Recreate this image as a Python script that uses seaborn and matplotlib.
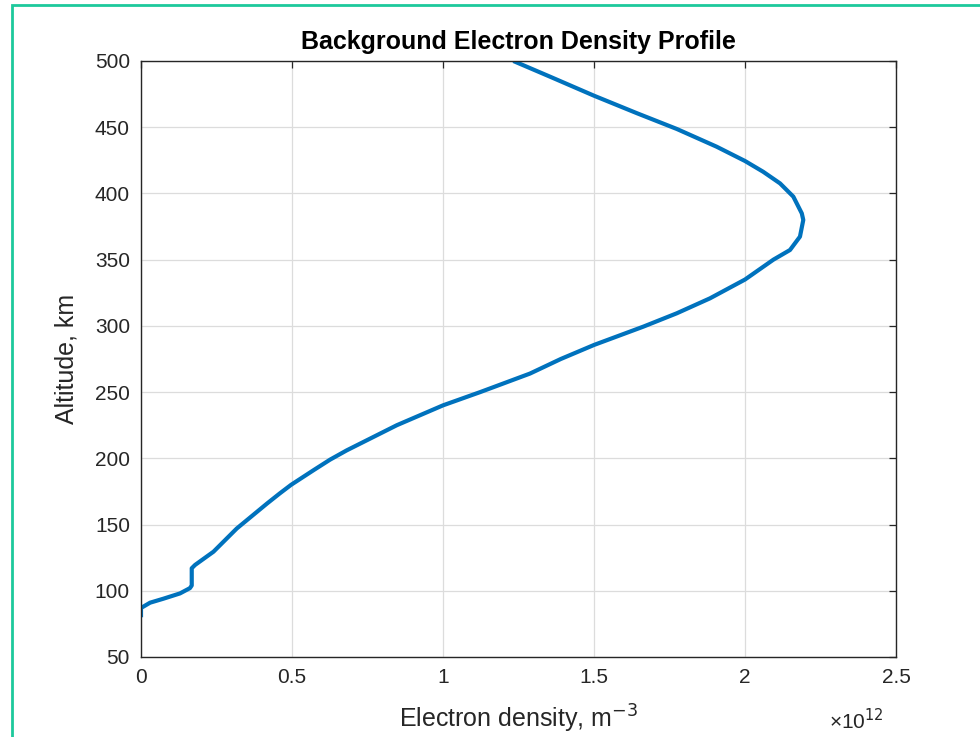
import matplotlib
matplotlib.use("Agg")
import matplotlib.pyplot as plt
import seaborn as sns
import pandas as pd
from matplotlib.patches import Rectangle

# Data (density in units of 1e12 m^-3, altitude in km)
altitude_km = [80, 87, 91, 94, 98, 102, 104, 110, 117, 119.5, 129.5, 147, 166, 173.6,
               180, 191, 199, 206, 225, 240, 250, 264, 275, 285.6, 299.4, 309.5,
               320.8, 335, 350, 357.3, 367.4, 380, 385, 397.6, 407.6, 416.4, 424.5,
               435.3, 448.7, 460.5, 473.8, 488.2, 500]
density_e12 = [0.0, 0.0, 0.03, 0.074, 0.129, 0.162, 0.168, 0.168, 0.168, 0.179, 0.24,
               0.317, 0.418, 0.46, 0.497, 0.571, 0.626, 0.681, 0.847, 1.0, 1.123,
               1.288, 1.39, 1.5, 1.663, 1.774, 1.884, 2.0, 2.094, 2.149, 2.182, 2.193,
               2.188, 2.16, 2.116, 2.06, 2.0, 1.906, 1.774, 1.643, 1.5, 1.354, 1.233]
x_ticks = [0, 0.5, 1, 1.5, 2, 2.5]
x_ticklabels = ["0", "0.5", "1", "1.5", "2", "2.5"]
y_ticks = [50, 100, 150, 200, 250, 300, 350, 400, 450, 500]

df = pd.DataFrame({"density": density_e12, "altitude": altitude_km})

sns.set_style("white")
plt.rcParams["font.family"] = ["Liberation Sans", "DejaVu Sans"]

fig = plt.figure(figsize=(9.8, 7.37), dpi=100)
W, H = 980, 737
ax = fig.add_axes([141 / W, 1 - 657 / H, (896 - 141) / W, (657 - 61) / H])

line_kws = dict(solid_joinstyle="round", solid_capstyle="butt")
sns.lineplot(data=df, x="density", y="altitude", sort=False, estimator=None,
             ax=ax, color="#0072BD", linewidth=3.0, **line_kws)

ax.set_xlim(0, 2.5)
ax.set_ylim(50, 500)
ax.set_xticks(x_ticks)
ax.set_xticklabels(x_ticklabels)
ax.set_yticks(y_ticks)

tc = "#262626"
ax.grid(True, color="#dcdcdc", linewidth=0.9)
ax.set_axisbelow(True)
for s in ax.spines.values():
    s.set_visible(True)
    s.set_color(tc)
    s.set_linewidth(1.0)
ax.tick_params(direction="in", length=5, width=0.9, color=tc, labelcolor=tc,
               labelsize=15, top=True, right=True, pad=8)

ax.set_title("Background Electron Density Profile", fontsize=18, fontweight="bold",
             color="#000000", pad=9)
ax.set_xlabel("Electron density, m$^{-3}$", fontsize=18, color=tc, labelpad=11)
ax.set_ylabel("Altitude, km", fontsize=18, color=tc, labelpad=12)

fig.text(829 / W, 1 - 721 / H, "×10$^{12}$", fontsize=15, color=tc, va="center")

# teal frame around the figure
fig.patches.append(Rectangle((12 / W, -0.05), 1.2, 1 - 5 / H + 0.05,
                             transform=fig.transFigure, fill=False,
                             edgecolor="#1dc99c", linewidth=2.0))

fig.savefig("out.png", dpi=100)
